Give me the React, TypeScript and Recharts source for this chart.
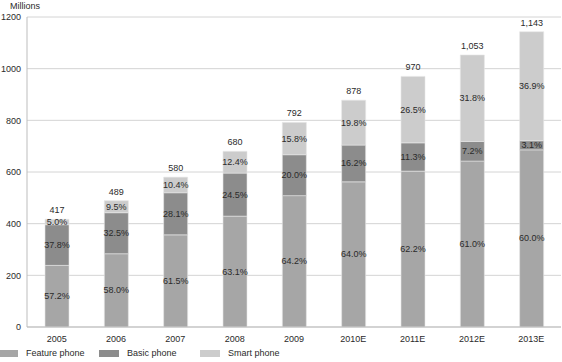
import { BarChart, Bar, XAxis, YAxis, CartesianGrid, LabelList } from "recharts"

const years = ["2005", "2006", "2007", "2008", "2009", "2010E", "2011E", "2012E", "2013E"]
const totals = [417, 489, 580, 680, 792, 878, 970, 1053, 1143]
const feature = [238.5, 283.6, 356.7, 429.1, 508.5, 561.9, 603.3, 642.3, 685.8]
const basic = [157.6, 158.9, 163.0, 166.6, 158.4, 142.2, 109.6, 75.8, 35.4]
const smart = [20.9, 46.5, 60.3, 84.3, 125.1, 173.8, 257.1, 334.9, 421.8]
const featurePct = ["57.2%", "58.0%", "61.5%", "63.1%", "64.2%", "64.0%", "62.2%", "61.0%", "60.0%"]
const basicPct = ["37.8%", "32.5%", "28.1%", "24.5%", "20.0%", "16.2%", "11.3%", "7.2%", "3.1%"]
const smartPct = ["5.0%", "9.5%", "10.4%", "12.4%", "15.8%", "19.8%", "26.5%", "31.8%", "36.9%"]
const yTicks = [0, 200, 400, 600, 800, 1000, 1200]

const series = [
  { key: "feature", name: "Feature phone", color: "#a6a6a6", pct: featurePct },
  { key: "basic", name: "Basic phone", color: "#8c8c8c", pct: basicPct },
  { key: "smart", name: "Smart phone", color: "#cccccc", pct: smartPct },
]

const data = years.map((year, i) => ({
  year,
  feature: feature[i],
  basic: basic[i],
  smart: smart[i],
  total: totals[i],
}))

const font = "Arial, 'Liberation Sans', sans-serif"
const textColor = "#2a2a2a"

function pctLabel(labels: string[]) {
  return (props: any) => {
    const { x, y, width, height, index } = props
    return (
      <text
        x={x + width / 2}
        y={y + height / 2}
        textAnchor="middle"
        dominantBaseline="central"
        fontSize={9}
        fill={textColor}
        fontFamily={font}
      >
        {labels[index]}
      </text>
    )
  }
}

function totalLabel(props: any) {
  const { x, y, width, index } = props
  return (
    <text x={x + width / 2} y={y - 6} textAnchor="middle" fontSize={9} fill={textColor} fontFamily={font}>
      {totals[index].toLocaleString("en-US")}
    </text>
  )
}

export default function App() {
  return (
    <div style={{ position: "absolute", left: 0, top: 0, width: 562, height: 362, background: "#fff", fontFamily: font, overflow: "hidden" }}>
      <div style={{ position: "absolute", left: 10, top: 1, fontSize: 9, color: textColor }}>Millions</div>
      <BarChart width={562} height={362} data={data} margin={{ top: 17, right: 1, left: 0, bottom: 0 }}>
        <CartesianGrid vertical={false} stroke="#d4d4d4" />
        <XAxis
          dataKey="year"
          height={35}
          tickLine={false}
          axisLine={{ stroke: "#bdbdbd" }}
          tick={{ fontSize: 9, fill: textColor, fontFamily: font }}
          tickMargin={3}
          interval={0}
        />
        <YAxis
          width={27}
          domain={[0, 1200]}
          ticks={yTicks}
          tickLine={false}
          axisLine={{ stroke: "#bdbdbd" }}
          tick={{ fontSize: 9, fill: textColor, fontFamily: font }}
          tickMargin={0}
        />
        {series.map((s) => (
          <Bar
            key={s.key}
            dataKey={s.key}
            name={s.name}
            stackId="a"
            fill={s.color}
            stroke="#e6e6e6"
            strokeWidth={0.6}
            barSize={24}
            isAnimationActive={false}
          >
            <LabelList dataKey={s.key} content={pctLabel(s.pct)} />
            {s.key === "smart" && <LabelList dataKey="total" content={totalLabel} />}
          </Bar>
        ))}
      </BarChart>
      <div style={{ position: "absolute", left: -2, top: 348, display: "flex", fontSize: 9, color: textColor }}>
        {series.map((s) => (
          <div key={s.key} style={{ display: "flex", alignItems: "center", width: 101 }}>
            <span style={{ display: "inline-block", width: 20, height: 7, background: s.color, marginRight: 8 }} />
            {s.name}
          </div>
        ))}
      </div>
    </div>
  )
}
